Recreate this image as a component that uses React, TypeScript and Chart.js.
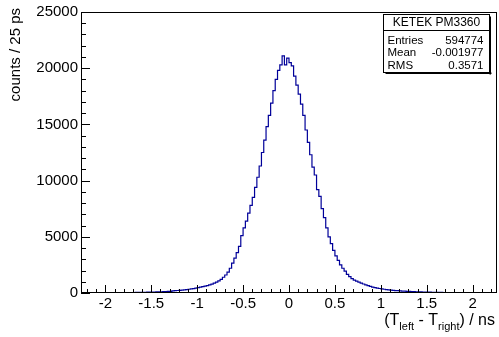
import React, { useEffect, useRef } from 'react';
import { Chart, registerables } from 'chart.js';

Chart.register(...registerables);

// Histogram: 180 bins of 25 ps from -2.25 ns to 2.25 ns
const binLow = -2.25;
const binWidth = 0.025;
const counts = [
  // -2.25 .. -1.0
  8, 12, 9, 14, 11, 15, 13, 17, 16, 19,
  21, 18, 24, 22, 27, 25, 30, 29, 33, 36,
  38, 41, 45, 43, 50, 54, 58, 62, 66, 72,
  78, 84, 90, 97, 104, 112, 120, 131, 140, 152,
  190, 205, 222, 240, 260, 282, 305, 332, 362, 395,
  // -1.0 .. -0.5
  430, 470, 515, 560, 610, 665, 720, 790, 870, 960,
  1080, 1210, 1400, 1600, 1850, 2200, 2650, 3100, 3600, 4150,
  // -0.5 .. 0
  5100, 5800, 6400, 7100, 7800, 8500, 9400, 10300, 11300, 12500,
  13600, 14800, 15800, 16900, 18000, 19000, 19800, 20300, 21100, 20300,
  // 0 .. 0.5
  20900, 20500, 20200, 19300, 18500, 17700, 16800, 15800, 14500, 13400,
  12300, 11200, 10500, 9200, 8600, 7500, 6700, 5800, 5000, 4400,
  // 0.5 .. 1.0
  3800, 3300, 2900, 2500, 2200, 1950, 1650, 1450, 1280, 1150,
  1050, 960, 880, 800, 720, 650, 590, 530, 480, 440,
  // 1.0 .. 2.25
  400, 365, 335, 305, 280, 258, 238, 220, 203, 188,
  174, 160, 148, 137, 127, 118, 109, 101, 94, 87,
  80, 74, 69, 64, 59, 55, 51, 47, 44, 41,
  38, 35, 33, 31, 28, 26, 25, 23, 21, 20,
  18, 17, 16, 14, 13, 12, 12, 11, 10, 9,
];

const xTicks = [-2, -1.5, -1, -0.5, 0, 0.5, 1, 1.5, 2];
const yTicks = [0, 5000, 10000, 15000, 20000, 25000];
const xMin = -2.265;
const xMax = 2.265;
const yMax = 25000;

const statsTitle = 'KETEK PM3360';
const statsLabels = ['Entries', 'Mean', 'RMS'];
const statsValues = ['594774', '-0.001977', '0.3571'];
const yTitle = 'counts / 25 ps';

const FONT = '"Liberation Sans", Arial, Helvetica, sans-serif';
const LINE_COLOR = '#000099';

const rootStyle = {
  id: 'rootStyle',
  afterDraw(chart: any) {
    const { ctx, chartArea: a, scales } = chart;
    const xs = scales.x;
    const ys = scales.y;
    ctx.save();
    ctx.strokeStyle = '#000';
    ctx.lineWidth = 1;
    // frame
    ctx.strokeRect(a.left + 0.5, a.top + 0.5, a.right - a.left - 1, a.bottom - a.top - 1);
    // x ticks (inside, from bottom)
    ctx.beginPath();
    for (let k = -22; k <= 22; k++) {
      const v = k / 10;
      const px = Math.round(xs.getPixelForValue(v)) + 0.5;
      const len = k % 5 === 0 ? 8 : 4;
      ctx.moveTo(px, a.bottom);
      ctx.lineTo(px, a.bottom - len);
    }
    // y ticks (inside, from left)
    for (let k = 0; k <= 25; k++) {
      const v = k * 1000;
      const py = Math.round(ys.getPixelForValue(v)) + 0.5;
      const len = k % 5 === 0 ? 9 : 5;
      ctx.moveTo(a.left, py);
      ctx.lineTo(a.left + len, py);
    }
    ctx.stroke();

    // y title
    ctx.fillStyle = '#000';
    ctx.save();
    ctx.translate(20, 8);
    ctx.rotate(-Math.PI / 2);
    ctx.font = `15px ${FONT}`;
    ctx.textAlign = 'right';
    ctx.textBaseline = 'alphabetic';
    ctx.fillText(yTitle, 0, 0);
    ctx.restore();

    // x title: (T_left - T_right) / ns
    const big = `16px ${FONT}`;
    const small = `11px ${FONT}`;
    const parts: [string, boolean][] = [['(T', false], ['left', true], [' - T', false], ['right', true], [') / ns', false]];
    let total = 0;
    for (const [t, sub] of parts) {
      ctx.font = sub ? small : big;
      total += ctx.measureText(t).width;
    }
    let cx = 495 - total;
    const baseY = 325;
    ctx.textAlign = 'left';
    ctx.textBaseline = 'alphabetic';
    for (const [t, sub] of parts) {
      ctx.font = sub ? small : big;
      ctx.fillText(t, cx, sub ? baseY + 5 : baseY);
      cx += ctx.measureText(t).width;
    }

    // stats box
    const bx = 383.5, by = 14.5, bw = 106, bh = 58;
    ctx.fillStyle = '#fff';
    ctx.fillRect(bx, by, bw, bh);
    ctx.fillStyle = '#000';
    ctx.fillRect(bx + 2, by + bh, bw, 1.5);
    ctx.fillRect(bx + bw, by + 2, 1.5, bh);
    ctx.strokeRect(bx, by, bw, bh);
    ctx.beginPath();
    ctx.moveTo(bx, by + 16);
    ctx.lineTo(bx + bw, by + 16);
    ctx.stroke();
    ctx.font = `12px ${FONT}`;
    ctx.textBaseline = 'middle';
    ctx.textAlign = 'center';
    ctx.fillText(statsTitle, bx + bw / 2, by + 8.5);
    ctx.font = `11.5px ${FONT}`;
    for (let i = 0; i < statsLabels.length; i++) {
      const yy = by + 26 + i * 12.5;
      ctx.textAlign = 'left';
      ctx.fillText(statsLabels[i], bx + 4, yy);
      ctx.textAlign = 'right';
      ctx.fillText(statsValues[i], bx + bw - 6, yy);
    }
    ctx.restore();
  },
};

export default function App() {
  const ref = useRef<HTMLCanvasElement>(null);
  useEffect(() => {
    const canvas = ref.current;
    if (!canvas) return;
    const points = counts.map((c, i) => ({ x: binLow + i * binWidth, y: c }));
    points.push({ x: binLow + counts.length * binWidth, y: counts[counts.length - 1] });
    const chart = new Chart(canvas, {
      type: 'line',
      data: {
        datasets: [
          {
            data: points,
            stepped: 'after',
            borderColor: LINE_COLOR,
            borderWidth: 1.2,
            pointRadius: 0,
            fill: false,
          },
        ],
      },
      options: {
        animation: false,
        responsive: false,
        maintainAspectRatio: false,
        devicePixelRatio: 1,
        layout: { padding: { left: 0, right: 2, top: 12, bottom: 0 } },
        plugins: { legend: { display: false }, tooltip: { enabled: false }, title: { display: false } },
        scales: {
          x: {
            type: 'linear',
            min: xMin,
            max: xMax,
            afterBuildTicks: (scale: any) => {
              scale.ticks = xTicks.map((v) => ({ value: v }));
            },
            afterFit: (scale: any) => {
              scale.height = 44;
            },
            grid: { display: false, drawTicks: false },
            border: { display: false },
            ticks: {
              autoSkip: false,
              maxRotation: 0,
              minRotation: 0,
              padding: 2,
              color: '#000',
              font: { family: FONT, size: 15 },
              callback: (v: any) => String(v),
            },
          },
          y: {
            type: 'linear',
            min: 0,
            max: yMax,
            afterBuildTicks: (scale: any) => {
              scale.ticks = yTicks.map((v) => ({ value: v }));
            },
            afterFit: (scale: any) => {
              scale.width = 81;
            },
            grid: { display: false, drawTicks: false },
            border: { display: false },
            ticks: {
              autoSkip: false,
              padding: 3,
              color: '#000',
              font: { family: FONT, size: 15 },
              callback: (v: any) => String(v),
            },
          },
        },
      },
      plugins: [rootStyle],
    });
    return () => chart.destroy();
  }, []);
  return (
    <div style={{ position: 'fixed', left: 0, top: 0, width: 499, height: 337, background: '#fff' }}>
      <canvas ref={ref} width={499} height={337} style={{ width: 499, height: 337, display: 'block' }} />
    </div>
  );
}
